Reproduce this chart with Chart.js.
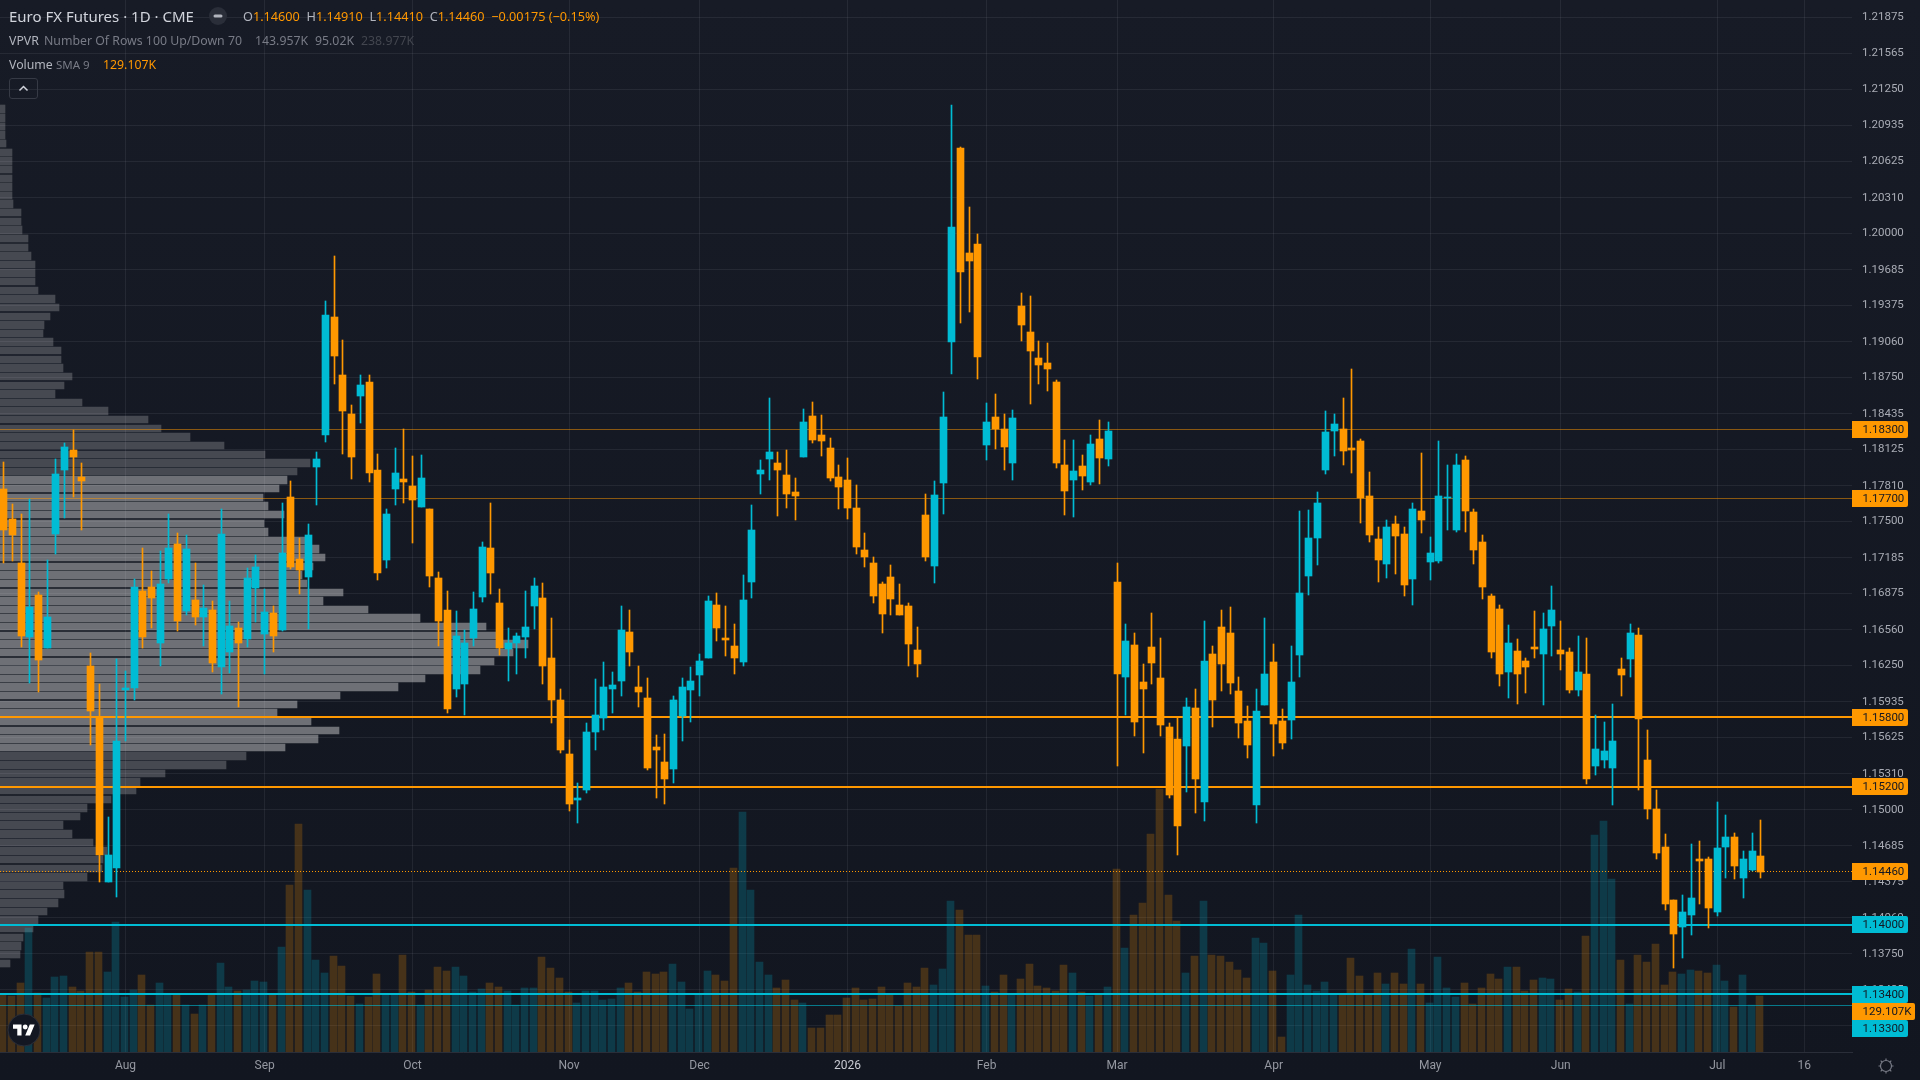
<!DOCTYPE html>
<html>
<head>
<meta charset="utf-8">
<title>Euro FX Futures</title>
<script src="https://cdn.jsdelivr.net/npm/chart.js@4"></script>
<style>
    html, body { margin: 0; padding: 0; width: 1920px; height: 1080px; overflow: hidden; background: linear-gradient(#171b26, #121620); }
    canvas { position: absolute; left: 0; top: 0; }
    .txt { position: absolute; white-space: pre; font: 12.3px "Noto Sans", sans-serif; line-height: 16px; }
    .title { font-size: 15px; color: #d1d4dc; }
    .ohlc { font-size: 12.7px; }
    .lbl { color: #b2b5be; }
    .dim { color: #787b86; }
    .faint { color: #43464f; }
    .orange { color: #ff9800; }
</style>
</head>
<body>
<canvas id="vpvrChart" width="1852" height="1052"></canvas>
<canvas id="priceChart" width="1920" height="1080"></canvas>

<div class="txt title" style="left:9px;top:8px">Euro FX Futures · 1D · CME</div>
<svg style="position:absolute;left:209px;top:7px" width="18" height="18"><circle cx="9" cy="9" r="9" fill="#2a2e39"/><rect x="4.5" y="7.5" width="9" height="3" rx="1.5" fill="#b2b5be"/></svg>
<div class="txt ohlc" style="left:243px;top:8px"><span class="lbl">O</span><span class="orange">1.14600 </span><span class="lbl"> H</span><span class="orange">1.14910 </span><span class="lbl"> L</span><span class="orange">1.14410 </span><span class="lbl"> C</span><span class="orange">1.14460  −0.00175 (−0.15%)</span></div>

<div class="txt lbl" style="left:9px;top:33px">VPVR</div>
<div class="txt dim" style="left:44px;top:33px">Number Of Rows 100 Up/Down 70</div>
<div class="txt dim" style="left:255px;top:33px">143.957K</div>
<div class="txt dim" style="left:315px;top:33px">95.02K</div>
<div class="txt faint" style="left:361px;top:33px">238.977K</div>

<div class="txt lbl" style="left:9px;top:57px">Volume</div>
<div class="txt dim" style="left:56px;top:57px;font-size:11.5px">SMA 9</div>
<div class="txt orange" style="left:103px;top:57px">129.107K</div>

<svg style="position:absolute;left:9px;top:78px" width="29" height="21"><rect x="0.5" y="0.5" width="28" height="20" rx="2.5" fill="none" stroke="#363a45"/><path d="M10.5 12.5 L14.5 8.5 L18.5 12.5" fill="none" stroke="#d1d4dc" stroke-width="1.5"/></svg>

<svg style="position:absolute;left:7px;top:1013px" width="34" height="34" viewBox="0 0 34 34"><circle cx="17" cy="17" r="16" fill="#131722" stroke="#2a2e39"/><g transform="translate(6,11.5) scale(0.61)"><path fill="#fff" d="M14 18H7V7H0V0h14v18zM28 18h-8l7.5-18h8L28 18z"/><circle cx="20" cy="4" r="4" fill="#fff"/></g></svg>

<svg style="position:absolute;left:1877px;top:1057px" width="18" height="18" viewBox="0 0 18 18"><circle cx="9" cy="9" r="5.5" fill="none" stroke="#787b86" stroke-width="1.2"/><path d="M9 1.5V3.5M9 14.5V16.5M1.5 9H3.5M14.5 9H16.5M3.7 3.7L5.1 5.1M12.9 12.9L14.3 14.3M3.7 14.3L5.1 12.9M12.9 5.1L14.3 3.7" stroke="#787b86" stroke-width="1.2"/></svg>

<script>
// daily candles, oldest first
var opens = [
    1.1778,1.1752,1.1714,1.16495,1.1686,1.164,1.1739,1.17945,1.1812,1.17885,
    1.1625,1.158,1.1437,1.1449,1.16035,1.16055,1.16895,1.1693,1.16445,1.17,
    1.17305,1.1672,1.16815,1.1667,1.1673,1.16235,1.16365,1.16575,1.1648,1.1692,
    1.1652,1.16705,1.16555,1.1771,1.17175,1.17015,1.1797,1.1825,1.19275,1.1877,
    1.1843,1.18585,1.1871,1.17945,1.17165,1.1778,1.17865,1.17805,1.17625,1.17605,
    1.1701,1.1673,1.16045,1.1609,1.16485,1.16845,1.1727,1.1679,1.1639,1.16445,
    1.16495,1.16765,1.16835,1.16315,1.15955,1.1548,1.1508,1.1517,1.1567,1.15795,
    1.16045,1.16115,1.1654,1.1606,1.15965,1.1554,1.1541,1.1535,1.1581,1.16035,
    1.16165,1.1632,1.16775,1.16485,1.1642,1.1628,1.16975,1.1791,1.1804,1.18005,
    1.179,1.17755,1.1806,1.18415,1.1825,1.18135,1.17885,1.1786,1.17615,1.1725,
    1.1714,1.16955,1.17015,1.16775,1.16765,1.16385,1.17555,1.1711,1.1783,1.19055,
    1.2074,1.1983,1.1991,1.18165,1.18405,1.183,1.18005,1.1937,1.19145,1.1892,
    1.18875,1.1871,1.1799,1.1786,1.1798,1.1784,1.18215,1.1804,1.16975,1.16155,
    1.16425,1.16105,1.1641,1.1614,1.15715,1.1561,1.1555,1.1588,1.1507,1.1635,
    1.16585,1.1653,1.16025,1.15765,1.1504,1.15905,1.1628,1.15765,1.15775,1.1634,
    1.17025,1.17355,1.17945,1.18285,1.183,1.18135,1.182,1.1772,1.17345,1.1713,
    1.17475,1.1739,1.17,1.1759,1.17145,1.17155,1.17705,1.17425,1.1803,1.1758,
    1.1732,1.1685,1.1674,1.1619,1.16375,1.1629,1.1641,1.1635,1.1659,1.16385,
    1.16365,1.16035,1.16175,1.15375,1.1543,1.15365,1.1622,1.16305,1.16515,1.1543,
    1.15005,1.14675,1.1422,1.1398,1.1409,1.14575,1.14575,1.1411,1.1468,1.1476,1.1441,1.1448,1.146
];
var highs = [
    1.18015,1.1765,1.17565,1.17695,1.16885,1.17165,1.1804,1.1818,1.18295,1.18005,
    1.16355,1.1609,1.1494,1.16305,1.162,1.17,1.1727,1.1707,1.17245,1.17565,
    1.174,1.1738,1.1714,1.1695,1.1681,1.17605,1.1681,1.16625,1.17095,1.1721,
    1.16915,1.16765,1.1766,1.1785,1.17355,1.17475,1.181,1.19415,1.198,1.19075,
    1.1851,1.1877,1.1877,1.18085,1.17605,1.18135,1.183,1.1807,1.18075,1.17605,
    1.1706,1.169,1.1672,1.16555,1.16885,1.1732,1.1766,1.16915,1.16575,1.1653,
    1.169,1.1701,1.16965,1.1666,1.1605,1.156,1.1523,1.15755,1.1613,1.1628,
    1.1619,1.16765,1.1673,1.1625,1.1614,1.15645,1.1566,1.15985,1.1614,1.16235,
    1.1635,1.1685,1.1688,1.16765,1.1661,1.17035,1.1764,1.1803,1.1857,1.181,
    1.1812,1.17875,1.18475,1.18535,1.18425,1.18225,1.1799,1.1805,1.17815,1.174,
    1.1719,1.16975,1.1712,1.16955,1.1679,1.16585,1.17735,1.1785,1.18625,1.21115,
    1.2075,1.2023,1.19995,1.1853,1.18605,1.1843,1.18465,1.19485,1.19455,1.19065,
    1.1905,1.18725,1.18205,1.18205,1.18075,1.1825,1.1838,1.18365,1.1714,1.16615,
    1.1653,1.1626,1.16705,1.16485,1.1575,1.15795,1.15965,1.16045,1.16635,1.1642,
    1.1673,1.16755,1.1615,1.15895,1.16045,1.1666,1.16435,1.1587,1.1642,1.1759,
    1.176,1.17755,1.1846,1.1843,1.1857,1.18825,1.18215,1.1793,1.1745,1.1751,
    1.17545,1.1745,1.1766,1.18095,1.17365,1.182,1.1799,1.18085,1.18065,1.17605,
    1.1738,1.1687,1.16775,1.166,1.1648,1.1632,1.1672,1.16705,1.1694,1.16635,
    1.164,1.16505,1.16485,1.1582,1.1576,1.15915,1.1632,1.16615,1.16575,1.1569,
    1.1517,1.14785,1.1422,1.14255,1.14705,1.14725,1.14585,1.15065,1.1495,1.148,1.1464,1.148,1.1491
];
var lows = [
    1.1714,1.17155,1.1641,1.161,1.1602,1.164,1.17215,1.1753,1.1771,1.17425,
    1.1556,1.1437,1.1437,1.1424,1.15595,1.1595,1.164,1.16575,1.1625,1.16965,
    1.1655,1.16685,1.166,1.1642,1.1619,1.16,1.16185,1.1589,1.1641,1.16625,
    1.16175,1.16365,1.1655,1.1709,1.1687,1.16565,1.1764,1.1819,1.18695,1.18085,
    1.17865,1.18355,1.17845,1.1699,1.171,1.1764,1.1766,1.1731,1.17625,1.1693,
    1.1642,1.15835,1.1598,1.1582,1.1642,1.168,1.16875,1.1634,1.1612,1.1618,
    1.1632,1.16565,1.1609,1.1575,1.1549,1.14985,1.1488,1.1514,1.15515,1.1569,
    1.15835,1.15985,1.1625,1.1589,1.1534,1.15105,1.15045,1.15235,1.15595,1.1576,
    1.1599,1.16315,1.1646,1.1633,1.1618,1.16245,1.16835,1.17735,1.1786,1.17545,
    1.17615,1.1751,1.1806,1.1818,1.18065,1.1785,1.17605,1.1752,1.17215,1.17105,
    1.1679,1.1653,1.16685,1.16685,1.16245,1.16155,1.1716,1.16965,1.17565,1.1878,
    1.1922,1.1932,1.18735,1.1803,1.1813,1.1795,1.1786,1.19065,1.1852,1.18695,
    1.1863,1.17965,1.17555,1.1754,1.1777,1.17815,1.17825,1.1798,1.15375,1.1582,
    1.15635,1.15495,1.1609,1.15635,1.15105,1.1461,1.1515,1.14975,1.14905,1.15715,
    1.16025,1.16,1.1562,1.15445,1.1488,1.15905,1.15465,1.15525,1.1561,1.1615,
    1.1686,1.1712,1.1791,1.18065,1.1799,1.1792,1.17485,1.1732,1.16975,1.1701,
    1.17045,1.1685,1.16775,1.174,1.1699,1.1714,1.17425,1.17405,1.17405,1.1713,
    1.16825,1.1632,1.1607,1.15965,1.15915,1.1601,1.1632,1.1591,1.1633,1.1621,
    1.1601,1.1599,1.1522,1.153,1.1536,1.1504,1.1599,1.16155,1.1517,1.14915,
    1.14575,1.14125,1.1363,1.1371,1.1391,1.14185,1.1397,1.1408,1.1441,1.14395,1.1423,1.14465,1.1441
];
var closes = [
    1.17425,1.1738,1.16505,1.16755,1.16295,1.1667,1.1791,1.18145,1.1806,1.1785,
    1.15855,1.14605,1.14605,1.15595,1.16055,1.1693,1.16495,1.16835,1.16955,1.1727,
    1.16635,1.1726,1.1667,1.1675,1.1627,1.1739,1.1659,1.16445,1.1701,1.17105,
    1.16715,1.16505,1.17225,1.17105,1.1708,1.1738,1.1804,1.1929,1.1894,1.18455,
    1.1806,1.18685,1.1792,1.1705,1.17565,1.1792,1.17845,1.17685,1.17875,1.17025,
    1.16635,1.1587,1.16505,1.1645,1.1674,1.1728,1.1705,1.164,1.16445,1.16505,
    1.16585,1.1694,1.16245,1.1595,1.15515,1.15045,1.15105,1.1567,1.1582,1.1606,
    1.1608,1.16555,1.16365,1.1602,1.15365,1.15515,1.15265,1.15955,1.1606,1.16115,
    1.1629,1.1681,1.16575,1.1647,1.16315,1.16815,1.17425,1.17945,1.181,1.1795,
    1.17735,1.1772,1.18365,1.18205,1.182,1.17875,1.178,1.17615,1.17275,1.1719,
    1.1685,1.16695,1.16825,1.16685,1.16435,1.1626,1.1719,1.1773,1.18405,1.20055,
    1.19665,1.1976,1.18925,1.18365,1.183,1.18145,1.18395,1.19205,1.1898,1.18855,
    1.18825,1.18005,1.17765,1.17935,1.17895,1.1817,1.1805,1.18285,1.1618,1.1646,
    1.1576,1.16045,1.1627,1.1573,1.15125,1.14855,1.1589,1.15265,1.1629,1.15955,
    1.1626,1.16095,1.1575,1.1556,1.15855,1.16175,1.1574,1.15575,1.16105,1.1688,
    1.17355,1.1766,1.18275,1.18345,1.1811,1.1812,1.17705,1.1738,1.17165,1.1745,
    1.17375,1.16945,1.17605,1.1751,1.17225,1.1772,1.1771,1.1799,1.1759,1.1725,
    1.1693,1.16365,1.16175,1.1645,1.1618,1.16235,1.1639,1.16565,1.1673,1.1635,
    1.16035,1.1619,1.15265,1.1553,1.15505,1.15595,1.16165,1.1653,1.15785,1.15005,
    1.1462,1.1418,1.13925,1.1411,1.1423,1.1455,1.14145,1.14665,1.1476,1.1451,1.1457,1.1464,1.1446
];
// contracts per day, in thousands
var volumes = [
    131,129,159,286,135,124,173,175,150,141,230,230,184,300,127,143,177,108,159,134,
    134,108,88,108,134,205,150,141,143,164,161,134,242,385,525,373,212,182,221,198,
    129,111,127,180,131,131,223,138,108,143,196,187,196,175,138,145,159,150,141,108,
    147,147,219,194,170,138,113,141,141,120,122,147,159,138,184,180,184,203,161,99,
    131,187,177,164,424,553,373,207,177,147,166,120,113,55,55,85,85,124,147,120,
    122,150,134,106,159,150,194,154,191,348,327,270,270,152,138,177,134,168,203,152,
    147,141,200,182,138,129,134,150,422,240,316,343,502,606,362,302,182,221,348,223,
    221,207,189,170,263,251,187,35,177,316,154,141,161,131,131,217,175,131,182,157,
    182,157,237,157,113,219,147,127,159,111,147,180,168,196,196,141,166,170,168,120,
    145,138,267,500,532,399,212,111,223,207,249,154,184,180,189,187,182,200,164,104,
    177,108,129.107
];
// visible range profile, top row first
var vpvrRows = [
    5,5,5,5,6,12,12,12,12,12,
    12,13,21,21,22,28,28,31,35,35,
    35,38,55,59,50,44,43,53,61,61,
    63,72,64,55,82,108,148,161,190,224,
    265,310,297,287,279,263,268,284,264,268,
    305,319,325,313,302,307,343,323,368,420,
    486,497,528,513,494,480,425,398,340,297,
    277,311,339,318,285,246,226,165,140,136,
    111,87,80,63,72,93,107,103,102,87,
    63,64,58,47,38,33,23,21,20,10
];
var valueAreaFirstRow = 43;
var valueAreaLastRow = 74;

var priceTicks = [
    1.21875,1.21565,1.2125,1.20935,1.20625,1.2031,1.2,1.19685,1.19375,1.1906,
    1.1875,1.18435,1.18125,1.1781,1.175,1.17185,1.16875,1.1656,1.1625,1.15935,
    1.15625,1.1531,1.15,1.14685,1.14375,1.1406,1.1375,1.13435,1.13125
];
var timeTicks = [14,30,47,65,80,97,113,128,146,164,179,197,207];
var timeLabels = ["Aug","Sep","Oct","Nov","Dec","2026","Feb","Mar","Apr","May","Jun","Jul","16"];

var strongLevels = [1.158, 1.152];
var weakLevels = [1.183, 1.177];
var supportLevels = [1.14, 1.134];
var thinSupportLevel = 1.133;
var lastClose = closes[closes.length - 1];
var lastVolume = volumes[volumes.length - 1];

var UP = "#00bcd4";
var DOWN = "#ff9800";
var PRICE_MIN = 1.12897;
var PRICE_MAX = 1.22025;
var SLOT_MIN = -0.4254;
var SLOT_MAX = 212.49;

Chart.defaults.animation = false;
Chart.defaults.font.family = 'Roboto, sans-serif';

function isUp(i){
    return closes[i] >= opens[i];
}

function levelLine(level, color, width, dash, order){
    return {
        type: "line",
        data: [{x: SLOT_MIN, y: level}, {x: SLOT_MAX, y: level}],
        borderColor: color,
        borderWidth: width,
        borderDash: dash || [],
        pointRadius: 0,
        yAxisID: "y",
        order: order
    };
}

function priceBars(first, second, thickness, order){
    return {
        type: "bar",
        data: opens.map(function(o, i){ return {x: i, y: [first[i], second[i]]}; }),
        backgroundColor: opens.map(function(o, i){ return isUp(i) ? UP : DOWN; }),
        barThickness: thickness,
        grouped: false,
        yAxisID: "y",
        order: order
    };
}

// keeps bars and lines on whole pixels, the way the trading terminal paints them
var pixelSnap = {
    id: "pixelSnap",
    beforeDatasetsDraw: function(chart){
        chart.getSortedVisibleDatasetMetas().forEach(function(meta){
            meta.data.forEach(function(el){
                if(meta.type === "line"){
                    var w = meta.controller.getDataset().borderWidth;
                    el.y = w % 2 ? Math.floor(el.y) + 0.5 : Math.round(el.y);
                }else if(meta.yAxisID === "yVol"){
                    el.x = Math.floor(el.x) - 0.5;
                    el.y = Math.round(el.y);
                    el.base = Math.round(el.base);
                }else{
                    el.x = Math.floor(el.x) + 0.5;
                    el.y = Math.round(el.y);
                    el.base = Math.round(el.base);
                }
            });
        });
    }
};

// same idea for the horizontal profile rows
var rowSnap = {
    id: "rowSnap",
    beforeDatasetsDraw: function(chart){
        chart.getDatasetMeta(0).data.forEach(function(el){
            var top = Math.round(el.y - el.height / 2);
            var bottom = Math.round(el.y + el.height / 2);
            el.y = (top + bottom) / 2;
            el.height = bottom - top;
        });
    }
};

function roundedTag(ctx, x, y, w, h){
    ctx.beginPath();
    ctx.moveTo(x, y);
    ctx.lineTo(x + w - 2, y);
    ctx.quadraticCurveTo(x + w, y, x + w, y + 2);
    ctx.lineTo(x + w, y + h - 2);
    ctx.quadraticCurveTo(x + w, y + h, x + w - 2, y + h);
    ctx.lineTo(x, y + h);
    ctx.closePath();
    ctx.fill();
}

// price tags on the right axis, overlapping tags get pushed downwards
var priceTags = {
    id: "priceTags",
    afterDraw: function(chart){
        var ctx = chart.ctx;
        var y = chart.scales.y;
        var tags = [];
        weakLevels.concat(strongLevels).forEach(function(v){
            tags.push({pos: y.getPixelForValue(v), text: v.toFixed(5), bg: DOWN, w: 56});
        });
        tags.push({pos: y.getPixelForValue(lastClose), text: lastClose.toFixed(5), bg: DOWN, w: 56});
        supportLevels.concat([thinSupportLevel]).forEach(function(v){
            tags.push({pos: y.getPixelForValue(v), text: v.toFixed(5), bg: UP, w: 56});
        });
        tags.push({pos: chart.scales.yVol.getPixelForValue(lastVolume), text: lastVolume.toFixed(3) + "K", bg: DOWN, w: 63});
        tags.sort(function(a, b){ return a.pos - b.pos; });
        var prev = -100;
        ctx.save();
        ctx.font = '11.5px Roboto, sans-serif';
        ctx.textBaseline = "middle";
        tags.forEach(function(tag){
            var top = Math.max(Math.round(tag.pos - 8.5), prev);
            ctx.fillStyle = tag.bg;
            roundedTag(ctx, 1852, top, tag.w, 17);
            ctx.fillStyle = "#131722";
            ctx.fillText(tag.text, 1862.5, top + 9);
            prev = top + 17;
        });
        ctx.restore();
    }
};

// volume profile sits on its own canvas under the candles
var profileTop = Math.max.apply(null, highs);
var profileStep = (profileTop - Math.min.apply(null, lows)) / vpvrRows.length;

new Chart(document.getElementById("vpvrChart"), {
    type: "bar",
    data: {
        datasets: [{
            data: vpvrRows.map(function(v, i){ return {x: v, y: profileTop - profileStep * (i + 0.5)}; }),
            backgroundColor: vpvrRows.map(function(v, i){
                return (i >= valueAreaFirstRow && i <= valueAreaLastRow) ? "#6e7076" : "#464951";
            }),
            barThickness: 7.4
        }]
    },
    plugins: [rowSnap],
    options: {
        indexAxis: "y",
        responsive: false,
        layout: {padding: 0},
        plugins: {legend: {display: false}, tooltip: {enabled: false}},
        scales: {
            x: {type: "linear", display: false, offset: false, min: 0, max: 1852},
            y: {type: "linear", display: false, offset: false, min: PRICE_MIN, max: PRICE_MAX}
        }
    }
});

var datasets = [];
datasets.push({
    type: "bar",
    data: volumes.map(function(v, i){ return {x: i, y: v}; }),
    backgroundColor: volumes.map(function(v, i){
        return isUp(i) ? "rgba(0, 188, 212, 0.22)" : "rgba(255, 152, 0, 0.22)";
    }),
    barThickness: 7,
    grouped: false,
    yAxisID: "yVol",
    order: 6
});
weakLevels.forEach(function(v){ datasets.push(levelLine(v, "rgba(255, 152, 0, 0.5)", 1, null, 4)); });
strongLevels.forEach(function(v){ datasets.push(levelLine(v, DOWN, 2, null, 4)); });
supportLevels.forEach(function(v){ datasets.push(levelLine(v, UP, 2, null, 4)); });
datasets.push(levelLine(thinSupportLevel, "rgba(0, 188, 212, 0.6)", 1, null, 4));
datasets.push(levelLine(lastClose, DOWN, 1, [1, 2], 3));
datasets.push(priceBars(lows, highs, 1, 2));
datasets.push(priceBars(opens, closes, 7, 1));

new Chart(document.getElementById("priceChart"), {
    data: {datasets: datasets},
    plugins: [pixelSnap, priceTags],
    options: {
        responsive: false,
        layout: {padding: 0},
        plugins: {legend: {display: false}, tooltip: {enabled: false}},
        scales: {
            x: {
                type: "linear",
                offset: false,
                min: SLOT_MIN,
                max: SLOT_MAX,
                afterBuildTicks: function(scale){
                    scale.ticks = timeTicks.map(function(v){ return {value: v}; });
                },
                afterFit: function(scale){
                    scale.height = 28;
                    scale.paddingLeft = 0;
                    scale.paddingRight = 0;
                },
                grid: {color: "rgba(240, 243, 250, 0.07)", drawTicks: false, offset: false},
                border: {color: "#2a2e39"},
                ticks: {
                    autoSkip: false,
                    maxRotation: 0,
                    padding: 7,
                    font: {size: 12},
                    color: function(ctx){ return ctx.tick && ctx.tick.value === 97 ? "#c8cad2" : "#9598a1"; },
                    callback: function(v){ return timeLabels[timeTicks.indexOf(v)]; }
                }
            },
            y: {
                type: "linear",
                position: "right",
                offset: false,
                min: PRICE_MIN,
                max: PRICE_MAX,
                afterBuildTicks: function(scale){
                    scale.ticks = priceTicks.map(function(v){ return {value: v}; });
                },
                afterFit: function(scale){
                    scale.width = 68;
                    scale.paddingTop = 0;
                    scale.paddingBottom = 0;
                },
                grid: {color: "rgba(240, 243, 250, 0.07)", drawTicks: false},
                border: {display: false},
                ticks: {
                    autoSkip: false,
                    padding: 10,
                    font: {size: 11.5},
                    color: "#a9acb5",
                    callback: function(v){ return v.toFixed(5); }
                }
            },
            yVol: {type: "linear", display: false, offset: false, min: 0, max: 2425}
        }
    }
});
</script>
</body>
</html>
